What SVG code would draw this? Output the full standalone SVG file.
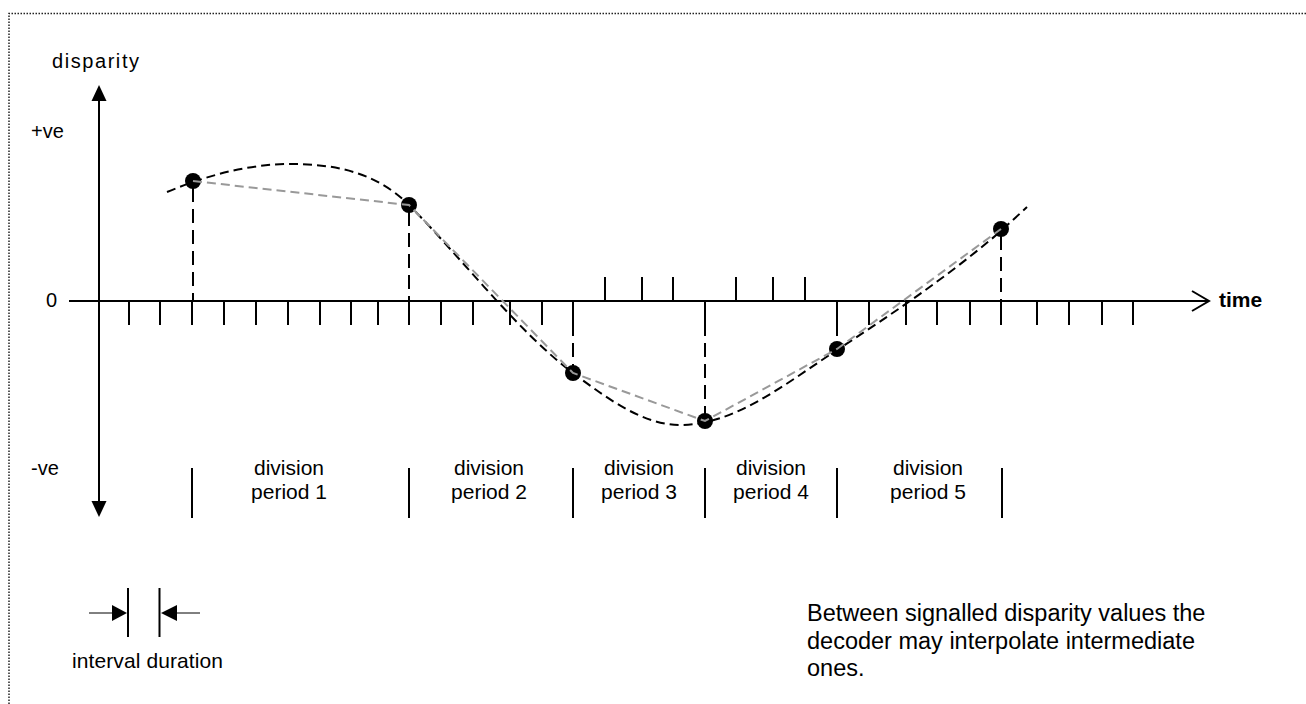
<svg xmlns="http://www.w3.org/2000/svg" width="1306" height="704" viewBox="0 0 1306 704">
<style>
text{font-family:"Liberation Sans",Arial,sans-serif;fill:#000}
.lbl{font-size:20px}
.div{font-size:21px;text-anchor:middle}
.note{font-size:23.5px}
.ax{stroke:#000;stroke-width:2;fill:none}
.tick{stroke:#000;stroke-width:2}
.vd{stroke:#000;stroke-width:2;stroke-dasharray:14 7;fill:none}
.curve{stroke:#000;stroke-width:2;stroke-dasharray:9 5;fill:none}
.interp{stroke:#999;stroke-width:2;stroke-dasharray:9 5;fill:none}
.pt{fill:#000}
.dl{stroke:#000;stroke-width:2}
.thin{stroke:#000;stroke-width:1}
</style>
<rect width="1306" height="704" fill="#fff"/>
<g id="frame">
<path d="M9,704 V13.5 H1306" fill="none" stroke="#222" stroke-width="1.5" stroke-dasharray="1.5 1.5"/>
</g>
<g id="axes">
<line class="ax" x1="99" y1="99" x2="99" y2="503"/>
<polygon points="99,85 91.5,101 106.5,101" fill="#000"/>
<polygon points="99,517 91.5,501 106.5,501" fill="#000"/>
<line class="ax" x1="69" y1="301" x2="1208" y2="301"/>
<polyline class="ax" points="1192,291 1209,301 1192,311"/>
<text class="lbl" x="52" y="68" font-size="22" textLength="87">disparity</text>
<text class="lbl" x="31" y="138">+ve</text>
<text class="lbl" x="46" y="307">0</text>
<text class="lbl" x="31" y="475">-ve</text>
<text x="1219" y="307" font-size="21" font-weight="bold">time</text>
</g>
<g id="ticks">
<path class="tick" d="M129,301V325M160,301V325M192,301V325M224,301V325M256,301V325M288,301V325M320,301V325M351,301V325M378,301V325M409,301V325M441,301V325M473,301V325M510,301V325M542,301V325M573,301V325M705,301V325M837,301V325M869,301V325M906,301V325M937,301V325M970,301V325M1001,301V325M1037,301V325M1069,301V325M1102,301V325M1133,301V325"/>
<path class="tick" d="M605,277V301M642,277V301M673,277V301M736,277V301M773,277V301M805,277V301"/>
</g>
<g id="connectors">
<path class="vd" d="M193,188V301M409,212V301M573,301V366M705,301V414M837,301V342M1001,236V301"/>
<path id="true-disparity" class="curve" d="M167,192 C208,175 249,164 290,164 C330,164 374,170 409,205 C459,255 518,332 573,373 C609,400 644,425 680,425 C735,425 785,384 837,350 C892,314 946,278 1001,231 L1027,207"/>
</g>
<g id="p1"><circle class="pt" cx="193" cy="181" r="8"/></g>
<g id="p2"><circle class="pt" cx="409" cy="205" r="8"/></g>
<g id="p3"><circle class="pt" cx="573" cy="373" r="8"/></g>
<g id="p4"><circle class="pt" cx="705" cy="421" r="8"/></g>
<g id="p5"><circle class="pt" cx="837" cy="349" r="8"/></g>
<g id="p6"><circle class="pt" cx="1001" cy="229" r="8"/></g>
<g id="interpolation">
<polyline class="interp" points="193,181 409,205 573,373 705,421 837,349 1001,229"/>
</g>
<g id="division-periods">
<path class="dl" d="M192,468V518M409,468V518M573,468V518M705,468V518M837,468V518M1002,468V518"/>
<text class="div" x="289" y="475">division</text>
<text class="div" x="289" y="499">period 1</text>
<text class="div" x="489" y="475">division</text>
<text class="div" x="489" y="499">period 2</text>
<text class="div" x="639" y="475">division</text>
<text class="div" x="639" y="499">period 3</text>
<text class="div" x="771" y="475">division</text>
<text class="div" x="771" y="499">period 4</text>
<text class="div" x="928" y="475">division</text>
<text class="div" x="928" y="499">period 5</text>
</g>
<g id="interval">
<line class="tick" x1="128" y1="588" x2="128" y2="637"/>
<line class="tick" x1="159.5" y1="588" x2="159.5" y2="637"/>
<line class="thin" x1="89" y1="613" x2="113" y2="613"/>
<polygon points="112,605 127,613 112,621" fill="#000"/>
<line class="thin" x1="176" y1="613" x2="200" y2="613"/>
<polygon points="177,605 161,613 177,621" fill="#000"/>
<text x="72" y="668" font-size="21" textLength="151">interval duration</text>
</g>
<g id="note">
<text class="note" x="807" y="621">Between signalled disparity values the</text>
<text class="note" x="807" y="649">decoder may interpolate intermediate</text>
<text class="note" x="807" y="676">ones.</text>
</g>
</svg>
